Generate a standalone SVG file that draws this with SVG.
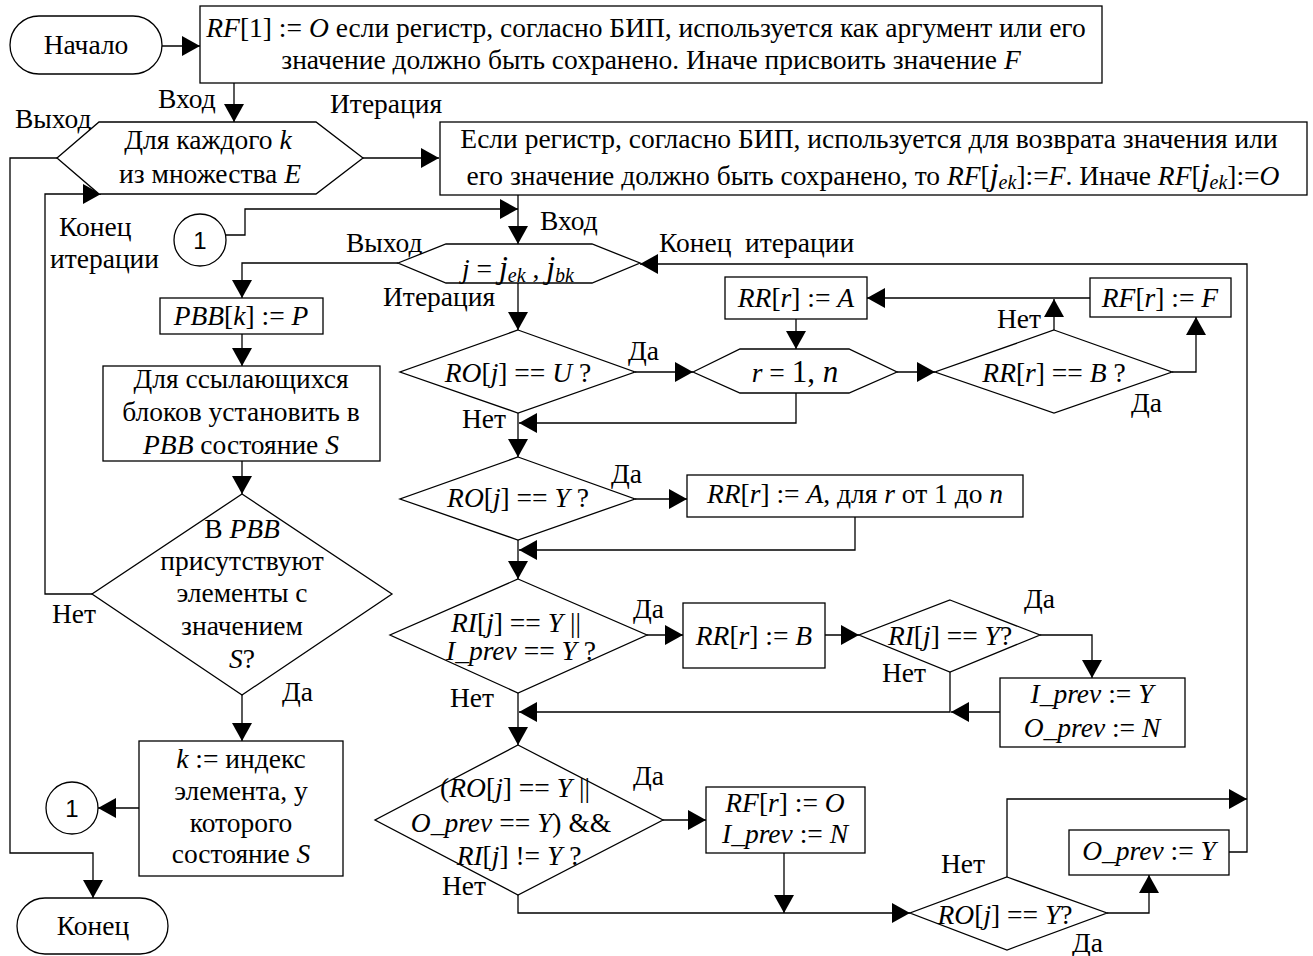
<svg xmlns="http://www.w3.org/2000/svg" width="1313" height="956" viewBox="0 0 1313 956">
<style>
text{font-family:'Liberation Serif',serif;font-size:27.5px;fill:#000}
.m{text-anchor:middle}
.i{font-style:italic}
.s{font-family:'Liberation Sans',sans-serif;font-size:24px}
.sh{fill:#fff;stroke:#000;stroke-width:1.3}
.c{fill:none;stroke:#000;stroke-width:1.3;marker-end:url(#ah)}
</style>
<defs>
<marker id="ah" viewBox="0 0 18 20" markerWidth="18" markerHeight="20" refX="18" refY="10" orient="auto" markerUnits="userSpaceOnUse">
<path d="M0,0 L18,10 L0,20 z" fill="#000"/>
</marker>
</defs>
<rect width="1313" height="956" fill="#fff"/>

<g id="connectors">
<path class="c" d="M162,46 L200,46"/>
<path class="c" d="M234,83 L234,122"/>
<path class="c" d="M363,158 L439,158"/>
<path class="c" d="M57,158 L10,158 L10,853 L93,853 L93,898"/>
<path class="c" d="M92,594 L45,594 L45,194 L101,194"/>
<path class="c" d="M226,235 L245,235 L245,209 L518,209"/>
<path class="c" d="M518,195 L518,244"/>
<path class="c" d="M398,263 L242,263 L242,298"/>
<path class="c" d="M518,283 L518,330"/>
<path class="c" d="M242,334 L242,366"/>
<path class="c" d="M242,461 L242,494"/>
<path class="c" d="M242,695 L242,741"/>
<path class="c" d="M139,808 L98,808"/>
<path class="c" d="M635,372 L693,372"/>
<path class="c" d="M1090,298 L867,298"/>
<path class="c" d="M796,319 L796,349"/>
<path class="c" d="M897,372 L935,372"/>
<path class="c" d="M1054,330 L1054,299"/>
<path class="c" d="M1172,372 L1196,372 L1196,317"/>
<path class="c" d="M796,393 L796,423 L519,423"/>
<path class="c" d="M518,413 L518,457"/>
<path class="c" d="M635,499 L687,499"/>
<path class="c" d="M855,517 L855,550 L519,550"/>
<path class="c" d="M518,540 L518,579"/>
<path class="c" d="M647,635 L683,635"/>
<path class="c" d="M825,635 L859,635"/>
<path class="c" d="M1040,635 L1092,635 L1092,678"/>
<path class="c" d="M950,672 L950,712 L519,712"/>
<path class="c" d="M1000,712 L951,712"/>
<path class="c" d="M518,693 L518,745"/>
<path class="c" d="M663,820 L706,820"/>
<path class="c" d="M784,853 L784,913"/>
<path class="c" d="M518,895 L518,913 L910,913"/>
<path class="c" d="M1107,913 L1149,913 L1149,875"/>
<path class="c" d="M1007,877 L1007,799 L1247,799"/>
<path class="c" d="M1229,852 L1247,852 L1247,264 L640,264"/>
</g>

<g id="labels">
<text x="158" y="108">Вход</text>
<text x="330" y="113">Итерация</text>
<text x="15" y="128">Выход</text>
<text x="59" y="236">Конец</text>
<text x="50" y="268">итерации</text>
<text x="540" y="230">Вход</text>
<text x="346" y="252">Выход</text>
<text x="659" y="252" xml:space="preserve">Конец  итерации</text>
<text x="383" y="306">Итерация</text>
<text x="628" y="360">Да</text>
<text x="997" y="328">Нет</text>
<text x="1131" y="412">Да</text>
<text x="462" y="428">Нет</text>
<text x="611" y="483">Да</text>
<text x="633" y="618">Да</text>
<text x="1024" y="608">Да</text>
<text x="882" y="682">Нет</text>
<text x="450" y="707">Нет</text>
<text x="633" y="785">Да</text>
<text x="442" y="895">Нет</text>
<text x="941" y="873">Нет</text>
<text x="1072" y="952">Да</text>
<text x="52" y="623">Нет</text>
<text x="282" y="701">Да</text>
</g>

<g id="start">
<rect class="sh" x="10" y="16" width="152" height="58" rx="29"/>
<text class="m" x="86" y="54">Начало</text>
</g>

<g id="init">
<rect class="sh" x="200" y="6" width="902" height="77"/>
<text class="m" x="646" y="37"><tspan class="i">RF</tspan>[1] := <tspan class="i">O</tspan> если регистр, согласно БИП, используется как аргумент или его</text>
<text class="m" x="651" y="69">значение должно быть сохранено. Иначе присвоить значение <tspan class="i">F</tspan></text>
</g>

<g id="loop-k">
<polygon class="sh" points="57,158 99,122 316,122 363,158 316,194 99,194"/>
<text class="m" x="208" y="149">Для каждого <tspan class="i">k</tspan></text>
<text class="m" x="210" y="183">из множества <tspan class="i">E</tspan></text>
</g>

<g id="set-rf">
<rect class="sh" x="440" y="122" width="867" height="73"/>
<text class="m" x="869" y="148">Если регистр, согласно БИП, используется для возврата значения или</text>
<text class="m" x="873" y="185">его значение должно быть сохранено, то <tspan class="i">RF</tspan>[<tspan class="i" font-size="32">j</tspan><tspan class="i" font-size="20" dy="4">ek</tspan><tspan dy="-4">]:=</tspan><tspan class="i">F</tspan>. Иначе <tspan class="i">RF</tspan>[<tspan class="i" font-size="32">j</tspan><tspan class="i" font-size="20" dy="4">ek</tspan><tspan dy="-4">]:=</tspan><tspan class="i">O</tspan></text>
</g>

<g id="conn1-top">
<circle class="sh" cx="200" cy="240" r="26"/>
<text class="s m" x="200" y="249">1</text>
</g>

<g id="loop-j">
<polygon class="sh" points="398,263 446,244 592,244 640,263 592,283 446,283"/>
<text class="m" x="518" y="278"><tspan class="i">j</tspan> = <tspan class="i" font-size="32">j</tspan><tspan class="i" font-size="20" dy="4">ek</tspan><tspan dy="-4"> , </tspan><tspan class="i" font-size="32">j</tspan><tspan class="i" font-size="20" dy="4">bk</tspan></text>
</g>

<g id="pbb-p">
<rect class="sh" x="160" y="298" width="163" height="36"/>
<text class="m" x="241" y="325"><tspan class="i">PBB</tspan>[<tspan class="i">k</tspan>] := <tspan class="i">P</tspan></text>
</g>

<g id="pbb-s">
<rect class="sh" x="103" y="366" width="277" height="95"/>
<text class="m" x="241" y="388">Для ссылающихся</text>
<text class="m" x="241" y="421">блоков установить в</text>
<text class="m" x="241" y="454"><tspan class="i">PBB</tspan> состояние <tspan class="i">S</tspan></text>
</g>

<g id="check-s">
<polygon class="sh" points="242,494 392,594 242,695 92,594"/>
<text class="m" x="242" y="538">В <tspan class="i">PBB</tspan></text>
<text class="m" x="242" y="570">присутствуют</text>
<text class="m" x="242" y="602">элементы с</text>
<text class="m" x="242" y="635">значением</text>
<text class="m" x="242" y="668"><tspan class="i">S</tspan>?</text>
</g>

<g id="set-k">
<rect class="sh" x="139" y="741" width="204" height="135"/>
<text class="m" x="241" y="768"><tspan class="i">k</tspan> := индекс</text>
<text class="m" x="241" y="800">элемента, у</text>
<text class="m" x="241" y="832">которого</text>
<text class="m" x="241" y="863">состояние <tspan class="i">S</tspan></text>
</g>

<g id="conn1-bottom">
<circle class="sh" cx="72" cy="808" r="26"/>
<text class="s m" x="72" y="817">1</text>
</g>

<g id="end">
<rect class="sh" x="17" y="898" width="151" height="56" rx="28"/>
<text class="m" x="93" y="935">Конец</text>
</g>

<g id="ro-u">
<polygon class="sh" points="518,330 635,372 518,413 400,372"/>
<text class="m" x="518" y="382"><tspan class="i">RO</tspan>[<tspan class="i">j</tspan>] == <tspan class="i">U</tspan> ?</text>
</g>

<g id="loop-r">
<polygon class="sh" points="693,372 740,349 849,349 897,372 849,393 740,393"/>
<text class="m" x="795" y="382"><tspan class="i">r</tspan> = <tspan font-size="31">1</tspan><tspan font-size="31">, </tspan><tspan class="i" font-size="31">n</tspan></text>
</g>

<g id="rr-a">
<rect class="sh" x="725" y="277" width="142" height="42"/>
<text class="m" x="796" y="307"><tspan class="i">RR</tspan>[<tspan class="i">r</tspan>] := <tspan class="i">A</tspan></text>
</g>

<g id="rr-b-check">
<polygon class="sh" points="1054,330 1172,372 1054,413 935,372"/>
<text class="m" x="1054" y="382"><tspan class="i">RR</tspan>[<tspan class="i">r</tspan>] == <tspan class="i">B</tspan> ?</text>
</g>

<g id="rf-f">
<rect class="sh" x="1090" y="278" width="141" height="39"/>
<text class="m" x="1160" y="307"><tspan class="i">RF</tspan>[<tspan class="i">r</tspan>] := <tspan class="i">F</tspan></text>
</g>

<g id="ro-y">
<polygon class="sh" points="518,457 635,499 518,540 400,499"/>
<text class="m" x="518" y="507"><tspan class="i">RO</tspan>[<tspan class="i">j</tspan>] == <tspan class="i">Y</tspan> ?</text>
</g>

<g id="rr-a-all">
<rect class="sh" x="687" y="475" width="336" height="42"/>
<text class="m" x="855" y="503"><tspan class="i">RR</tspan>[<tspan class="i">r</tspan>] := <tspan class="i">A</tspan>, для <tspan class="i">r</tspan> от 1 до <tspan class="i">n</tspan></text>
</g>

<g id="ri-check">
<polygon class="sh" points="518,579 647,635 518,693 390,635"/>
<text class="m" x="516" y="632"><tspan class="i">RI</tspan>[<tspan class="i">j</tspan>] == <tspan class="i">Y</tspan> ||</text>
<text class="m" x="521" y="660"><tspan class="i">I_prev</tspan> == <tspan class="i">Y</tspan> ?</text>
</g>

<g id="rr-b">
<rect class="sh" x="683" y="603" width="142" height="65"/>
<text class="m" x="754" y="645"><tspan class="i">RR</tspan>[<tspan class="i">r</tspan>] := <tspan class="i">B</tspan></text>
</g>

<g id="ri-y">
<polygon class="sh" points="950,600 1040,635 950,672 859,635"/>
<text class="m" x="950" y="645"><tspan class="i">RI</tspan>[<tspan class="i">j</tspan>] == <tspan class="i">Y</tspan>?</text>
</g>

<g id="iprev-set">
<rect class="sh" x="1000" y="678" width="185" height="69"/>
<text class="m" x="1092" y="703"><tspan class="i">I_prev</tspan> := <tspan class="i">Y</tspan></text>
<text class="m" x="1092" y="737"><tspan class="i">O_prev</tspan> := <tspan class="i">N</tspan></text>
</g>

<g id="out-check">
<polygon class="sh" points="518,745 663,820 518,895 375,820"/>
<text class="m" x="515" y="797">(<tspan class="i">RO</tspan>[<tspan class="i">j</tspan>] == <tspan class="i">Y</tspan> ||</text>
<text class="m" x="511" y="832"><tspan class="i">O_prev</tspan> == <tspan class="i">Y</tspan>) &amp;&amp;</text>
<text class="m" x="519" y="865"><tspan class="i">RI</tspan>[<tspan class="i">j</tspan>] != <tspan class="i">Y</tspan> ?</text>
</g>

<g id="rf-o">
<rect class="sh" x="706" y="787" width="159" height="66"/>
<text class="m" x="785" y="812"><tspan class="i">RF</tspan>[<tspan class="i">r</tspan>] := <tspan class="i">O</tspan></text>
<text class="m" x="785" y="843"><tspan class="i">I_prev</tspan> := <tspan class="i">N</tspan></text>
</g>

<g id="ro-y2">
<polygon class="sh" points="1007,877 1107,913 1007,950 910,913"/>
<text class="m" x="1005" y="924" font-size="26"><tspan class="i">RO</tspan>[<tspan class="i">j</tspan>] == <tspan class="i">Y</tspan>?</text>
</g>

<g id="oprev-y">
<rect class="sh" x="1069" y="830" width="160" height="45"/>
<text class="m" x="1149" y="860"><tspan class="i">O_prev</tspan> := <tspan class="i">Y</tspan></text>
</g>
</svg>
